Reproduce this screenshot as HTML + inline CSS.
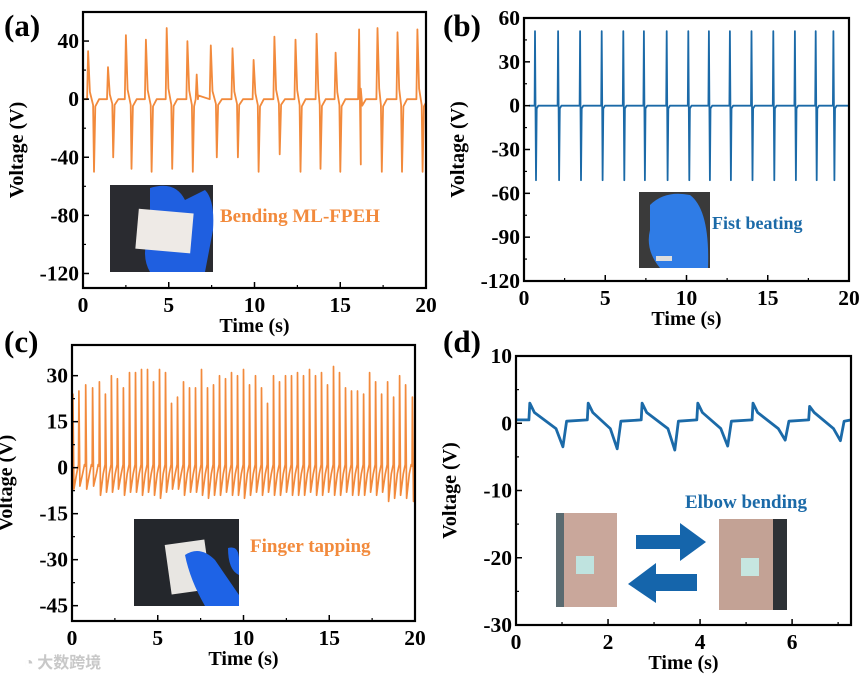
<!DOCTYPE html>
<html><head><meta charset="utf-8">
<style>
body{margin:0;background:#fff;}
svg{display:block;font-family:"Liberation Serif","Noto Serif CJK SC",serif;font-weight:bold;}
</style></head>
<body>
<svg id="fig" width="866" height="678" viewBox="0 0 866 678">
  <text x="4" y="36" font-size="31">(a)</text>
  <text x="443" y="36" font-size="31">(b)</text>
  <text x="4" y="352" font-size="31">(c)</text>
  <text x="443" y="352" font-size="31">(d)</text>

  <g>
    <rect x="110" y="185" width="103" height="87" fill="#2a2b30"/>
    <path d="M150 188 Q175 180 185 200 L205 190 Q215 200 213 230 L205 272 L150 272 Q140 255 150 230 Z" fill="#1f5fe0"/>
    <rect x="137" y="211" width="55" height="40" fill="#eeeae6" transform="rotate(5 164 231)"/>
  </g>
  <g>
    <rect x="639" y="192" width="71" height="76" fill="#3a3a3a"/>
    <path d="M650 205 Q665 190 690 195 Q710 210 708 268 L660 268 Q645 250 650 230 Z" fill="#2f7ce6"/>
    <rect x="656" y="256" width="16" height="5" fill="#ddd"/>
  </g>
  <g>
    <rect x="134" y="519" width="105" height="87" fill="#24272c"/>
    <rect x="168" y="542" width="40" height="50" fill="#e8e6e2" transform="rotate(-8 188 567)"/>
    <path d="M185 555 Q200 545 215 560 L239 595 L239 606 L205 606 Q190 580 185 555 Z" fill="#1e63e6"/>
    <path d="M228 548 Q239 545 239 560 L239 575 Q228 570 228 548 Z" fill="#1e63e6"/>
  </g>
  <g>
    <rect x="556" y="513" width="61" height="94" fill="#c9a79b"/>
    <rect x="556" y="513" width="8" height="94" fill="#5a6a70"/>
    <rect x="576" y="556" width="18" height="18" fill="#bfe3df"/>
  </g>
  <g>
    <rect x="719" y="519" width="68" height="91" fill="#c3a295"/>
    <rect x="773" y="519" width="14" height="91" fill="#2e3236"/>
    <rect x="741" y="558" width="18" height="18" fill="#c6e6e0"/>
  </g>
  <polygon points="636,535 680,535 680,523 706,542 680,561 680,549 636,549" fill="#1565ab"/>
  <polygon points="697,574 656,574 656,563 628,584 656,603 656,591 697,591" fill="#1565ab"/>

  <text x="220" y="222" font-size="19" fill="#f28a3c">Bending ML-FPEH</text>
  <text x="712" y="229" font-size="18" fill="#1b6aa8">Fist beating</text>
  <text x="250" y="552" font-size="19" fill="#f28a3c">Finger tapping</text>
  <text x="685" y="508" font-size="19" fill="#1b6aa8">Elbow bending</text>
  <text x="24" y="668" font-size="16" fill="#c8c8c8" font-family="Noto Sans CJK SC, sans-serif">◔ 大数跨境</text>
</svg>
<script>
// Panel (a) data
const aPeakT=[0.3,1.46,2.5,3.67,4.88,6.09,6.63,7.45,8.72,9.95,11.16,12.39,13.62,14.73,16.1,17.17,18.34,19.5];
const aPeakV=[33,22,44,41,49,40,17,37,35,27,43,41,45,32,48,49,46,48];
const aTrT=[0.64,1.76,2.83,4.0,5.2,6.4,7.8,9.03,10.24,11.47,12.68,13.85,15.0,16.2,17.42,18.6,19.8];
const aTrV=[-50,-40,-48,-50,-48,-50,-40,-40,-50,-38,-50,-48,-50,-45,-50,-50,-50];
const aYTicks=[40,0,-40,-80,-120];
const aXTicks=[0,5,10,15,20];
// Panel (b) data
const bPulseT=[0.68,2.1,3.45,4.78,6.11,7.38,8.78,10.11,11.38,12.67,14.0,15.34,16.67,17.95,19.04];
const bPeakV=[51,51,51,51,51,51,51,51,51,51,51,51,51,51,51];
const bTrV=[-51,-51,-51,-51,-51,-51,-51,-51,-51,-51,-51,-51,-51,-51,-51];
const bYTicks=[60,30,0,-30,-60,-90,-120];
const bXTicks=[0,5,10,15,20];
// Panel (c) data
const cPulseT=[0.05,0.4,0.8,1.2,1.6,1.95,2.3,2.65,3.0,3.35,3.7,4.05,4.4,4.75,5.1,5.45,5.8,6.15,6.5,6.85,7.2,7.55,7.9,8.25,8.6,8.95,9.3,9.65,10.0,10.35,10.7,11.05,11.4,11.75,12.1,12.45,12.8,13.15,13.5,13.85,14.2,14.55,14.9,15.25,15.6,15.95,16.3,16.65,17.0,17.35,17.7,18.05,18.4,18.75,19.1,19.45,19.85];
const cPeakV=[24,25,27,26,28,24,30,29,26,31,31,32,32,28,32,31,21,23,28,26,26,32,26,27,30,29,31,30,32,27,30,26,21,30,28,30,30,31,30,32,30,31,27,33,31,26,25,25,24,31,28,24,28,23,30,27,23];
const cTrV=[-7,-6,-7,-6,-9,-8,-8,-7,-9,-8,-8,-9,-8,-9,-10,-8,-7,-7,-9,-8,-8,-9,-10,-9,-9,-8,-9,-9,-10,-9,-8,-9,-8,-9,-9,-8,-9,-9,-9,-8,-9,-9,-8,-9,-9,-8,-9,-9,-9,-8,-9,-8,-11,-10,-9,-10,-11];
const cYTicks=[30,15,0,-15,-30,-45];
const cXTicks=[0,5,10,15,20];
// Panel (d) data
const dPeakT=[0.3,1.57,2.74,3.95,5.15,6.38];
const dPeakV=[3,3,3,3,3,2.5];
const dDipT=[1.02,2.2,3.45,4.6,5.85,7.05];
const dDipV=[-3.5,-3.8,-4,-3.4,-2.5,-2.6];
const dYTicks=[10,0,-10,-20,-30];
const dXTicks=[0,2,4,6];

const NS='http://www.w3.org/2000/svg';
const svg=document.getElementById('fig');
function el(tag,attrs){const e=document.createElementNS(NS,tag);for(const k in attrs)e.setAttribute(k,attrs[k]);return e;}

function drawPanel(id,box,xd,yd,xt,yt,color,pts,sw){
  const sx=v=>box.l+(v-xd[0])/(xd[1]-xd[0])*(box.r-box.l);
  const sy=v=>box.b-(v-yd[0])/(yd[1]-yd[0])*(box.b-box.t);
  const g=el('g',{});
  
  
  svg.insertBefore(g,svg.firstChild.nextSibling);
  const clip=el('clipPath',{id:'clip-'+id});
  clip.appendChild(el('rect',{x:box.l,y:box.t,width:box.r-box.l,height:box.b-box.t}));
  g.appendChild(clip);
  const line=el('polyline',{points:pts.map(p=>sx(p[0]).toFixed(1)+','+sy(p[1]).toFixed(1)).join(' '),fill:'none',stroke:color,'stroke-width':sw,'stroke-linejoin':'round','clip-path':'url(#clip-'+id+')'});
  
  
  g.appendChild(line);
  const frame=el('rect',{x:box.l,y:box.t,width:box.r-box.l,height:box.b-box.t,fill:'none',stroke:'#000','stroke-width':2.2});
  
  
  g.appendChild(frame);
  const dy=yt[0]-yt[1], dx=xt[1]-xt[0];
  yt.forEach(v=>{
    const y=sy(v);
    g.appendChild(el('line',{x1:box.l,x2:box.l+6,y1:y,y2:y,stroke:'#000','stroke-width':1.5}));
    const ym=sy(v-dy/2);
    if(ym<box.b) g.appendChild(el('line',{x1:box.l,x2:box.l+3,y1:ym,y2:ym,stroke:'#000','stroke-width':1.2}));
    const t=el('text',{x:box.l-4,y:y+7,'text-anchor':'end','font-size':21.5});
    t.textContent=v;
    
    
    g.appendChild(t);
  });
  xt.forEach(v=>{
    const x=sx(v);
    g.appendChild(el('line',{x1:x,x2:x,y1:box.b,y2:box.b-6,stroke:'#000','stroke-width':1.5}));
    const xm=sx(v+dx/2);
    if(xm<box.r) g.appendChild(el('line',{x1:xm,x2:xm,y1:box.b,y2:box.b-3,stroke:'#000','stroke-width':1.2}));
    const t=el('text',{x:x,y:box.b+24,'text-anchor':'middle','font-size':21.5});
    t.textContent=v;
    
    
    g.appendChild(t);
  });
  const xl=el('text',{x:(box.l+box.r)/2,y:box.b+44,'text-anchor':'middle','font-size':20});
  xl.textContent='Time (s)';
  
  
  g.appendChild(xl);
  const cy=(box.t+box.b)/2, lx=box.l-60;
  const yl=el('text',{x:lx,y:cy,'text-anchor':'middle','font-size':20,transform:'rotate(-90 '+lx+' '+cy+')'});
  yl.textContent='Voltage (V)';
  
  
  g.appendChild(yl);
}

let pa=[[0,0]];
aPeakT.forEach((t,i)=>{pa.push([t-0.06,0],[t,aPeakV[i]],[t+0.1,aPeakV[i]*0.15]);});
aTrT.forEach((t,i)=>{pa.push([t-0.05,aTrV[i]*0.08],[t,aTrV[i]],[t+0.08,aTrV[i]*0.1],[t+0.3,0]);});
pa.sort((p,q)=>p[0]-q[0]);pa.push([20,0]);

let pb=[[0.3,0]];
bPulseT.forEach((t,i)=>{pb.push([t-0.03,0],[t,bPeakV[i]],[t+0.03,0],[t+0.06,bTrV[i]],[t+0.1,-2],[t+0.2,0]);});
pb.push([20,0]);

let pc=[[0,0]];
cPulseT.forEach((t,i)=>{pc.push([t-0.02,0.5],[t,cPeakV[i]],[t+0.06,cTrV[i]],[t+0.22,-2],[t+0.33,1]);});
pc.push([20,0]);

let pd=[[0,0.5]];
dPeakT.forEach((t,i)=>{pd.push([t-0.02,0.5],[t,dPeakV[i]],[t+0.1,1.6],[dDipT[i]-0.15,-0.8],[dDipT[i],dDipV[i]],[dDipT[i]+0.08,0.3]);});
pd.push([7.28,0.5]);

drawPanel('a',{l:83,r:426,t:12,b:288},[0,20],[-130,60],aXTicks,aYTicks,'#f28a3c',pa,1.8);
drawPanel('b',{l:524,r:849,t:18,b:281},[0,20],[-120,60],bXTicks,bYTicks,'#1b6aa8',pb,1.8);
drawPanel('c',{l:72,r:415,t:345,b:621},[0,20],[-50,40],cXTicks,cYTicks,'#f28a3c',pc,1.7);
drawPanel('d',{l:516,r:851,t:356,b:625},[0,7.28],[-30,10],dXTicks,dYTicks,'#1b6aa8',pd,2.8);
</script>
</body></html>
